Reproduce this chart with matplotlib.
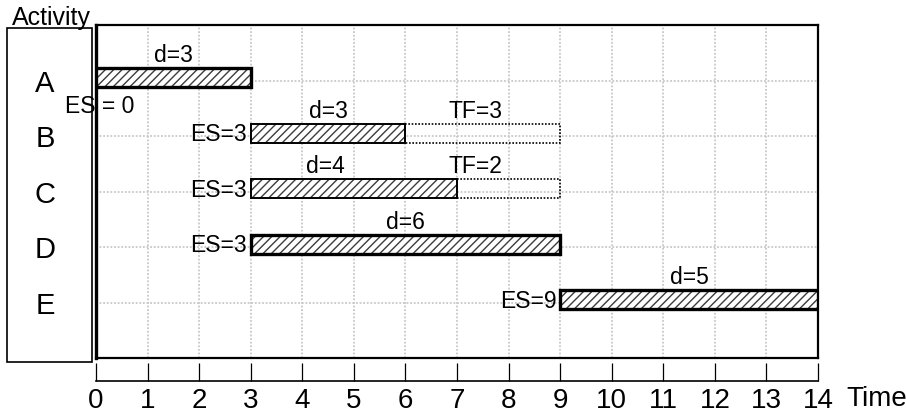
import matplotlib
matplotlib.use('Agg')
import matplotlib.pyplot as plt
from matplotlib.patches import Rectangle

# activity network schedule
activities = ['A', 'B', 'C', 'D', 'E']
early_start = [0, 3, 3, 3, 9]
duration = [3, 3, 4, 6, 5]
total_float = [0, 3, 2, 0, 0]
time_ticks = list(range(0, 15))

plt.rcParams['font.family'] = ['Liberation Sans', 'DejaVu Sans']
plt.rcParams['hatch.linewidth'] = 1.0
plt.rcParams['hatch.color'] = '#3c3c3c'

W, H = 906, 417
fig = plt.figure(figsize=(W / 100, H / 100), dpi=100)

ax = fig.add_axes([96 / W, 1 - 358 / H, 722 / W, 333 / H])
rows = list(range(1, len(activities) + 1))
ax.set_xlim(time_ticks[0], time_ticks[-1])
ax.set_ylim(6.0, 0.0)
ax.set_xticks(time_ticks[1:-1])
ax.set_yticks(rows)
ax.tick_params(length=0, labelbottom=False, labelleft=False)
ax.grid(True, color='#c8c8c8', linestyle=(0, (1, 1)), linewidth=1.3, zorder=0)
ax.set_axisbelow(True)
for side in ['top', 'right', 'bottom']:
    ax.spines[side].set_linewidth(1.6)
ax.spines['left'].set_linewidth(2.4)

bar_h = 0.34
bar_y = [r - 0.05 for r in rows]
d_shift = [0, 0, -0.55, 0, 0]
tf_x = 7.35
note_size = 16.5

for i, act in enumerate(activities):
    critical = total_float[i] == 0
    lw = 2.4 if critical else 1.4
    ax.barh(bar_y[i], duration[i], left=early_start[i], height=bar_h,
            color='white', hatch='////', edgecolor='#3c3c3c', linewidth=0, zorder=3)
    ax.barh(bar_y[i], duration[i], left=early_start[i], height=bar_h,
            fill=False, edgecolor='black', linewidth=lw, zorder=4)
    if total_float[i] > 0:
        ax.barh(bar_y[i], total_float[i], left=early_start[i] + duration[i], height=bar_h,
                fill=False, edgecolor='black', linewidth=1.2, linestyle=(0, (1, 1)), zorder=4)
        ax.text(tf_x, bar_y[i] - bar_h / 2 - 0.02, f'TF={total_float[i]}',
                ha='center', va='bottom', fontsize=note_size)

    ax.text(early_start[i] + duration[i] / 2 + d_shift[i], bar_y[i] - bar_h / 2 - 0.02,
            f'd={duration[i]}', ha='center', va='bottom', fontsize=note_size)

    if early_start[i] == 0:
        ax.text(0.08, rows[i] + 0.46, f'ES = {early_start[i]}', ha='center', va='center',
                fontsize=note_size, zorder=2, clip_on=False)
    else:
        ax.text(early_start[i] - 0.07, bar_y[i] + 0.03, f'ES={early_start[i]}',
                ha='right', va='center', fontsize=note_size, zorder=5)

    ax.text(-0.99, rows[i] + 0.06, act, ha='center', va='center', fontsize=21, clip_on=False)

# box holding the activity names
fig.add_artist(Rectangle((7 / W, 1 - 362 / H), 85 / W, 334 / H, fill=False,
                         edgecolor='black', linewidth=1.2, transform=fig.transFigure))
fig.text(12 / W, 1 - 25 / H, 'Activity', fontsize=18, va='baseline')

# time ruler
ax_t = fig.add_axes([96 / W, 1 - 381 / H, 722 / W, 18 / H])
ax_t.set_xlim(time_ticks[0], time_ticks[-1])
ax_t.set_ylim(0, 1)
ax_t.patch.set_alpha(0)
for side in ['top', 'left', 'right']:
    ax_t.spines[side].set_visible(False)
ax_t.spines['bottom'].set_linewidth(1.2)
ax_t.set_yticks([])
ax_t.set_xticks(time_ticks)
ax_t.set_xticklabels([str(t) for t in time_ticks])
ax_t.tick_params(axis='x', direction='in', length=13, width=0.9, pad=5, labelsize=20)
fig.text(846 / W, 1 - 386 / H, 'Time', fontsize=20, va='top')

plt.savefig('out.png', dpi=100)
plt.close()
